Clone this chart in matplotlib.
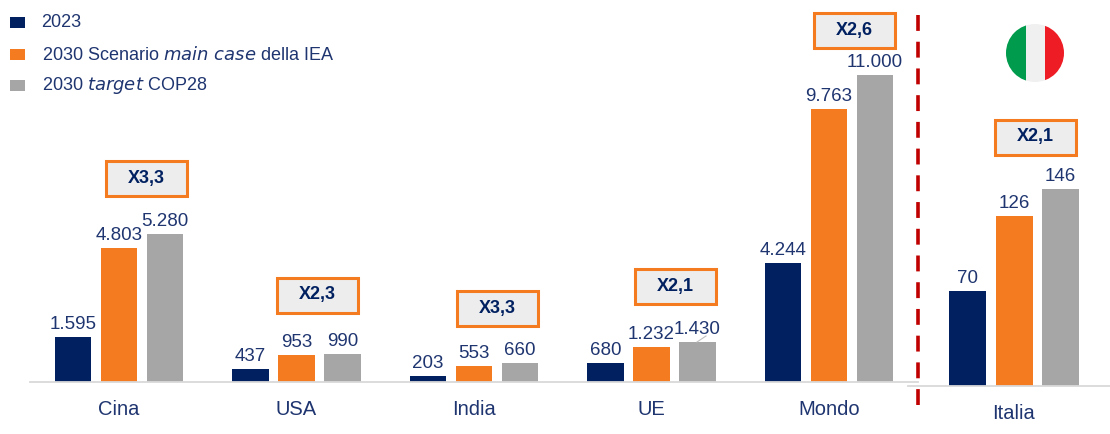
import matplotlib
matplotlib.use("Agg")
import matplotlib.pyplot as plt
from matplotlib.patches import Rectangle, Circle
import numpy as np

# Values
categories = ["Cina", "USA", "India", "UE", "Mondo"]
val_2023 = [1595, 437, 203, 680, 4244]
val_iea = [4803, 953, 553, 1232, 9763]
val_cop = [5280, 990, 660, 1430, 11000]
multipliers = ["X3,3", "X2,3", "X3,3", "X2,1", "X2,6"]

it_category = ["Italia"]
it_2023 = [70]
it_iea = [126]
it_cop = [146]
it_multiplier = "X2,1"

legend_labels = ["2023", r"2030 Scenario $\mathit{main\ case}$ della IEA", r"2030 $\mathit{target}$ COP28"]

NAVY = "#002060"
ORANGE = "#F47B20"
GREY = "#A6A6A6"
TEXT = "#1F3570"
W, H = 1110, 434

plt.rcParams["font.family"] = ["Liberation Sans Narrow", "Liberation Sans"]
plt.rcParams["mathtext.fontset"] = "custom"
plt.rcParams["mathtext.rm"] = "Liberation Sans Narrow"
plt.rcParams["mathtext.it"] = "Liberation Sans Narrow:italic"

fig = plt.figure(figsize=(W / 100, H / 100), dpi=100, facecolor="white")


def axes_px(left, top, right, bottom):
    return fig.add_axes([left / W, 1 - bottom / H, (right - left) / W, (bottom - top) / H])


def number(v):
    return f"{v:,}".replace(",", ".")


def draw_bars(ax, cats, series, offset_pitch, bar_w):
    x = np.arange(len(cats))
    for vals, color, off in zip(series, [NAVY, ORANGE, GREY], [-1, 0, 1]):
        bars = ax.bar(x + off * offset_pitch, vals, bar_w, color=color, zorder=2)
        for b, v in zip(bars, vals):
            ax.annotate(number(v), (b.get_x() + b.get_width() / 2, v), xytext=(0, 4),
                        textcoords="offset pixels", ha="center", va="bottom",
                        fontsize=13.5, color=TEXT)
    ax.set_xticks(x, cats)
    ax.tick_params(axis="x", length=0, labelsize=14.5, labelcolor=TEXT, pad=13)
    ax.set_yticks([])
    for s in ["top", "left", "right"]:
        ax.spines[s].set_visible(False)
    ax.spines["bottom"].set_color("#D9D9D9")
    ax.spines["bottom"].set_linewidth(1.3)
    ax.patch.set_alpha(0)


# Left panel, 177.5 px per category
ax = axes_px(30.3, 10, 917.8, 381.5)
draw_bars(ax, categories, [val_2023, val_iea, val_cop], 46 / 177.5, 36.5 / 177.5)
ax.set_xlim(-0.5, 4.5)
ax.set_ylim(0, 371.5 / (306.5 / 11000))

# Right panel
ax2 = axes_px(908, 10, 1120, 385.5)
draw_bars(ax2, it_category, [it_2023, it_iea, it_cop], 46.5 / 212, 37 / 212)
ax2.set_xlim(-0.5, 0.5)
ax2.set_ylim(0, 375.5 / (196.5 / 146))

# Overlay in pixel coordinates for legend, callouts, divider and flag
ov = fig.add_axes([0, 0, 1, 1], zorder=5)
ov.set_xlim(0, W)
ov.set_ylim(H, 0)
ov.axis("off")

for y, color, label in zip([22, 54, 85], [NAVY, ORANGE, GREY], legend_labels):
    ov.add_patch(Rectangle((10, y - 5.5), 15, 11, color=color, lw=0))
    ov.text(41.5, y + 0.5, label, fontsize=13, color=TEXT, va="center", ha="left")

box_centers = [(146, 178), (317, 295), (497, 308), (675, 286), (854, 30), (1035, 137)]
for (cx, cy), label in zip(box_centers, multipliers + [it_multiplier]):
    ov.add_patch(Rectangle((cx - 40.5, cy - 17.5), 81, 35, facecolor="#EDEDED",
                           edgecolor=ORANGE, lw=2.2))
    ov.text(cx, cy, label, fontsize=13, fontweight="bold", color=NAVY, ha="center", va="center",
            family=["Liberation Sans", "DejaVu Sans"], stretch="condensed")

ov.plot([918, 918], [15, 410], color="#C00000", lw=2.6, dashes=(4.4, 3.0))

# UE leader line to the 1.430 label
ov.plot([697, 706], [342, 336], color="#BFBFBF", lw=0.8)

clip = Circle((1035, 53), 29, transform=ov.transData)
for x0, c in zip([1006, 1025.5, 1044.5], ["#009B4D", "#F0F0F0", "#EE1C25"]):
    r = ov.add_patch(Rectangle((x0, 24), 19.5, 58, color=c, lw=0))
    r.set_clip_path(clip)

fig.savefig("out.png", dpi=100)
